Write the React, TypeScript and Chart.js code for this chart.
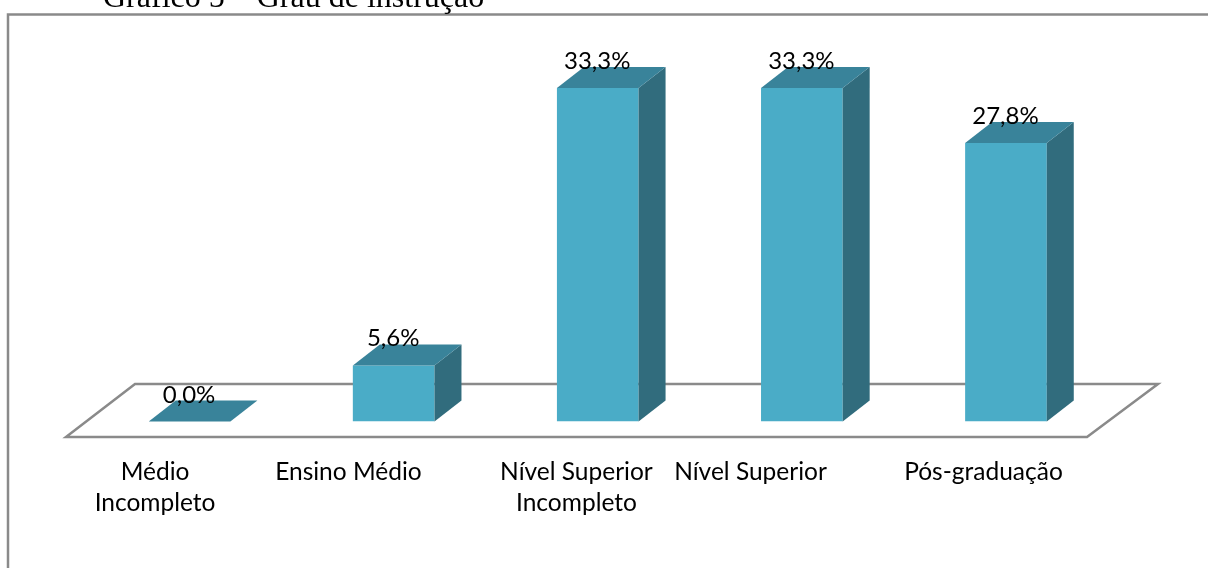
import React, { useEffect, useRef } from "react";
import { Chart, registerables } from "chart.js";

Chart.register(...registerables);

const headingText = "Gráfico 5 – Grau de instrução";
const categories = [
  ["Médio", "Incompleto"],
  ["Ensino Médio"],
  ["Nível Superior", "Incompleto"],
  ["Nível Superior"],
  ["Pós-graduação"],
];
const shares = [0, 5.6, 33.3, 33.3, 27.8];
const shareLabels = ["0,0%", "5,6%", "33,3%", "33,3%", "27,8%"];

const FRONT = "#4AACC7";
const TOP = "#39839A";
const SIDE = "#316C7D";
const RULE = "#8A8A8A";
const DEPTH_X = 27;
const DEPTH_Y = 21;
const LABEL_FONT = "Lato";

// The category captions sit left of their columns, each by its own amount.
const captionShift = [-34.5, -45.2, -21.3, -51.3, -22.5];

const poly = (ctx: CanvasRenderingContext2D, pts: number[][], fill: string) => {
  ctx.beginPath();
  pts.forEach(([x, y], i) => (i ? ctx.lineTo(x, y) : ctx.moveTo(x, y)));
  ctx.closePath();
  ctx.fillStyle = fill;
  ctx.fill();
};

const pagePlugin = {
  id: "page",
  beforeDraw(chart: any) {
    const { ctx, width, height, chartArea } = chart;
    ctx.save();
    ctx.fillStyle = "#fff";
    ctx.fillRect(0, 0, width, height);

    // Outer frame, running off the right and bottom edges
    ctx.strokeStyle = RULE;
    ctx.lineWidth = 2.5;
    ctx.beginPath();
    ctx.moveTo(8, height);
    ctx.lineTo(8, 14.5);
    ctx.lineTo(width, 14.5);
    ctx.stroke();

    // Heading, partly cut by the top edge
    ctx.fillStyle = "#000";
    ctx.font = "32px 'Liberation Serif'";
    ctx.textAlign = "left";
    ctx.textBaseline = "alphabetic";
    ctx.fillText(headingText, 103, 7);

    // Floor of the 3D plot
    const { left, right, bottom } = chartArea;
    ctx.strokeStyle = RULE;
    ctx.lineWidth = 2.5;
    ctx.lineJoin = "miter";
    ctx.beginPath();
    ctx.moveTo(left - 21.5, bottom + 15.5);
    ctx.lineTo(right - 21, bottom + 15.5);
    ctx.lineTo(right + 50, bottom - 37.5);
    ctx.lineTo(left + 47.5, bottom - 37.5);
    ctx.closePath();
    ctx.stroke();
    ctx.restore();

    // Move each caption sideways before the axis paints it
    chart.scales.x.getLabelItems().forEach((item: any, i: number) => {
      item.options.translation[0] += captionShift[i];
    });
  },
  afterDatasetsDraw(chart: any) {
    const { ctx } = chart;
    const base = chart.scales.y.getPixelForValue(0);
    ctx.save();
    chart.getDatasetMeta(0).data.forEach((bar: any) => {
      const half = bar.width / 2;
      const l = bar.x - half;
      const r = bar.x + half;
      const t = bar.y;
      if (base - t > 0.5) {
        poly(ctx, [[r, t], [r + DEPTH_X, t - DEPTH_Y], [r + DEPTH_X, base - DEPTH_Y], [r, base]], SIDE);
      }
      poly(ctx, [[l, t], [r, t], [r + DEPTH_X, t - DEPTH_Y], [l + DEPTH_X, t - DEPTH_Y]], TOP);
    });
    ctx.fillStyle = "#000";
    ctx.font = `24px ${LABEL_FONT}`;
    ctx.textAlign = "center";
    ctx.textBaseline = "alphabetic";
    chart.getDatasetMeta(0).data.forEach((bar: any, i: number) => {
      ctx.fillText(shareLabels[i], bar.x - 0.5, bar.y - 19);
    });
    ctx.restore();
  },
};

export default function App() {
  const ref = useRef<HTMLCanvasElement>(null);

  useEffect(() => {
    const chart = new Chart(ref.current!, {
      type: "bar",
      data: {
        labels: categories,
        datasets: [
          {
            data: shares,
            backgroundColor: FRONT,
            barPercentage: 0.4,
            categoryPercentage: 1,
          },
        ],
      },
      options: {
        responsive: false,
        animation: false,
        layout: { padding: { left: 87.5, right: 100, top: 71, bottom: 0 } },
        plugins: { legend: { display: false }, tooltip: { enabled: false } },
        scales: {
          x: {
            grid: { display: false },
            border: { display: false },
            afterFit: (scale: any) => {
              scale.height = 146.5;
            },
            ticks: {
              autoSkip: false,
              maxRotation: 0,
              minRotation: 0,
              padding: 27,
              color: "#000",
              font: { family: LABEL_FONT, size: 24.5, lineHeight: 1.28 },
            },
          },
          y: { display: false, min: 0, max: 35 },
        },
      },
      plugins: [pagePlugin],
    } as any);
    return () => chart.destroy();
  }, []);

  return (
    <div style={{ position: "absolute", left: 0, top: 0, width: 1208, height: 568 }}>
      <canvas ref={ref} width={1208} height={568} style={{ display: "block" }} />
    </div>
  );
}
